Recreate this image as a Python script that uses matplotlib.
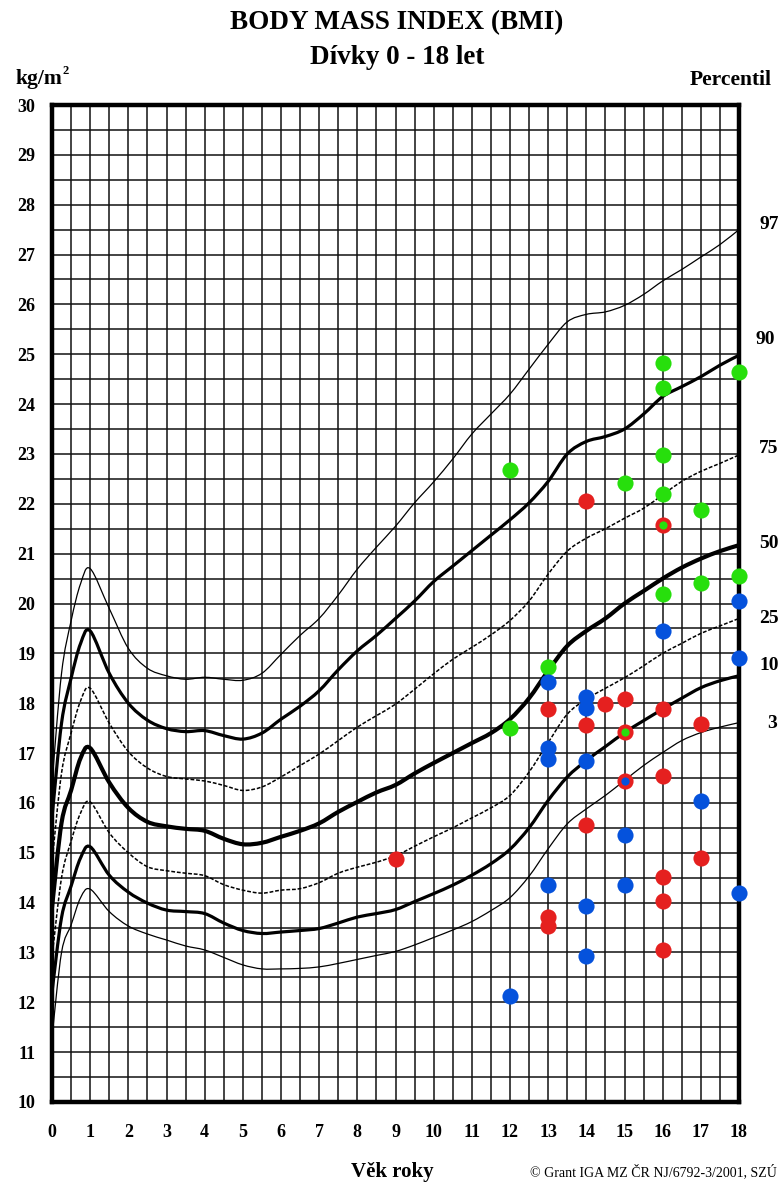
import matplotlib
matplotlib.use("Agg")
import matplotlib.pyplot as plt
from matplotlib.path import Path
from matplotlib.patches import PathPatch

plt.rcParams['font.family'] = ['Liberation Serif', 'DejaVu Serif']

# vek (roky) a percentilove krivky BMI
ages = [0, 0.25, 0.5, 0.75, 1, 1.5, 2, 2.5, 3, 3.5, 4, 4.5, 5, 5.5, 6, 6.5, 7, 7.5, 8, 8.5,
        9, 9.5, 10, 10.5, 11, 11.5, 12, 12.5, 13, 13.5, 14, 14.5, 15, 15.5, 16, 16.5, 17, 17.5, 18]
p97 = [16.4, 18.6, 19.65, 20.4, 20.7, 19.9, 19.1, 18.7, 18.55, 18.48, 18.52, 18.48, 18.46, 18.6,
       18.98, 19.36, 19.7, 20.17, 20.69, 21.13, 21.55, 22.02, 22.44, 22.9, 23.4, 23.8, 24.2, 24.7,
       25.2, 25.65, 25.8, 25.85, 25.98, 26.2, 26.47, 26.7, 26.95, 27.2, 27.5]
p90 = [15.7, 17.6, 18.5, 19.2, 19.45, 18.6, 18.0, 17.66, 17.49, 17.43, 17.45, 17.35, 17.28, 17.4,
       17.68, 17.94, 18.25, 18.67, 19.05, 19.36, 19.7, 20.05, 20.44, 20.75, 21.06, 21.37, 21.68, 22.02,
       22.45, 23.0, 23.25, 23.35, 23.5, 23.8, 24.15, 24.35, 24.55, 24.78, 24.98]
p75 = [14.8, 16.6, 17.4, 18.05, 18.3, 17.6, 17.03, 16.7, 16.53, 16.48, 16.44, 16.35, 16.25, 16.32,
       16.52, 16.75, 16.98, 17.25, 17.52, 17.75, 17.98, 18.28, 18.59, 18.88, 19.12, 19.37, 19.66, 20.05,
       20.59, 21.05, 21.31, 21.5, 21.71, 21.91, 22.18, 22.45, 22.65, 22.81, 22.98]
p50 = [13.9, 15.6, 16.25, 16.9, 17.1, 16.41, 15.9, 15.62, 15.53, 15.48, 15.44, 15.28, 15.17, 15.2,
       15.32, 15.44, 15.59, 15.82, 16.02, 16.21, 16.36, 16.59, 16.8, 17.0, 17.2, 17.4, 17.68, 18.1,
       18.65, 19.15, 19.45, 19.7, 20.0, 20.25, 20.5, 20.72, 20.9, 21.05, 21.17]
p25 = [12.9, 14.5, 15.23, 15.8, 16.02, 15.4, 15.0, 14.72, 14.64, 14.59, 14.54, 14.36, 14.25, 14.19,
       14.25, 14.28, 14.4, 14.59, 14.71, 14.81, 14.94, 15.13, 15.32, 15.5, 15.7, 15.9, 16.15, 16.62,
       17.21, 17.78, 18.08, 18.3, 18.51, 18.75, 19.0, 19.2, 19.4, 19.55, 19.7]
p10 = [12.2, 13.7, 14.33, 14.9, 15.12, 14.55, 14.21, 13.99, 13.85, 13.82, 13.78, 13.59, 13.44, 13.38,
       13.41, 13.44, 13.48, 13.59, 13.71, 13.78, 13.86, 14.02, 14.18, 14.35, 14.55, 14.78, 15.07, 15.5,
       16.05, 16.52, 16.85, 17.13, 17.41, 17.65, 17.88, 18.1, 18.31, 18.45, 18.55]
p3 = [11.3, 13.0, 13.55, 14.1, 14.27, 13.82, 13.53, 13.37, 13.25, 13.13, 13.05, 12.9, 12.75, 12.67,
      12.67, 12.68, 12.71, 12.78, 12.86, 12.94, 13.02, 13.15, 13.3, 13.45, 13.62, 13.84, 14.1, 14.53,
      15.08, 15.58, 15.88, 16.15, 16.45, 16.75, 17.01, 17.25, 17.41, 17.52, 17.61]

# namerene hodnoty
green_x = [12, 12, 13, 15, 16, 16, 16, 16, 16, 17, 17, 18, 18]
green_y = [22.67, 17.5, 18.73, 22.42, 24.83, 24.33, 22.98, 22.19, 20.19, 21.87, 20.41, 24.65, 20.55]
red_x = [9, 13, 13, 13, 14, 14, 14, 14.5, 15, 16, 16, 16, 16, 16, 17, 17]
red_y = [14.87, 17.88, 13.71, 13.53, 22.06, 17.56, 15.55, 17.98, 18.08, 17.89, 16.53, 14.51,
         14.03, 13.05, 17.58, 14.89]
blue_x = [12, 13, 13, 13, 13, 14, 14, 14, 14, 14, 15, 15, 16, 17, 18, 18, 18]
blue_y = [12.13, 18.43, 17.11, 16.89, 14.36, 18.13, 17.91, 16.85, 13.93, 12.93, 15.35, 14.36,
          19.45, 16.03, 20.05, 18.9, 14.2]
ring_green_x = [16, 15]
ring_green_y = [21.58, 17.43]
ring_blue_x = [15]
ring_blue_y = [16.43]

pct_labels = ['97', '90', '75', '50', '25', '10', '3']
pct_label_y = [27.6, 25.3, 23.1, 21.2, 19.7, 18.75, 17.6]
pct_label_x = [759, 755, 759, 759, 759, 759, 767]

GREEN = '#27df0c'
RED = '#e5201f'
BLUE = '#0552dc'


def smooth_curve(ax, xs, ys, **kw):
    # Catmull-Rom -> Bezier, jen vykresleni hladke cary pres namerene body
    pts = list(zip(xs, ys))
    verts = [pts[0]]
    codes = [Path.MOVETO]
    n = len(pts)
    for i in range(n - 1):
        p0 = pts[i - 1] if i > 0 else pts[i]
        p1 = pts[i]
        p2 = pts[i + 1]
        p3 = pts[i + 2] if i + 2 < n else pts[i + 1]
        c1 = (p1[0] + (p2[0] - p0[0]) / 6, p1[1] + (p2[1] - p0[1]) / 6)
        c2 = (p2[0] - (p3[0] - p1[0]) / 6, p2[1] - (p3[1] - p1[1]) / 6)
        verts += [c1, c2, p2]
        codes += [Path.CURVE4] * 3
    ax.add_patch(PathPatch(Path(verts, codes), fill=False, **kw))


fig = plt.figure(figsize=(7.78, 11.84), dpi=100)
ax = fig.add_axes([52 / 778, 1 - 1102 / 1184, 687 / 778, 997 / 1184])
ax.set_xlim(0, 18)
ax.set_ylim(10, 30)

# mrizka po 0.5
for i in range(1, 36):
    ax.axvline(i * 0.5, color='#111111', lw=1.1, zorder=1)
for i in range(1, 40):
    ax.axhline(10 + i * 0.5, color='#111111', lw=1.1, zorder=1)

smooth_curve(ax, ages, p97, edgecolor='black', lw=0.9, zorder=3)
smooth_curve(ax, ages, p90, edgecolor='black', lw=2.3, zorder=3)
smooth_curve(ax, ages, p75, edgecolor='black', lw=1.1, ls=(0, (2.5, 1.2)), zorder=3)
smooth_curve(ax, ages, p50, edgecolor='black', lw=3.0, zorder=3)
smooth_curve(ax, ages, p25, edgecolor='black', lw=1.1, ls=(0, (2.5, 1.2)), zorder=3)
smooth_curve(ax, ages, p10, edgecolor='black', lw=2.3, zorder=3)
smooth_curve(ax, ages, p3, edgecolor='black', lw=0.9, zorder=3)

ax.scatter(green_x, green_y, s=135, color=GREEN, zorder=6, clip_on=False, linewidths=0)
ax.scatter(red_x, red_y, s=135, color=RED, zorder=6, clip_on=False, linewidths=0)
ax.scatter(blue_x, blue_y, s=135, color=BLUE, zorder=6, clip_on=False, linewidths=0)
ax.scatter(ring_green_x, ring_green_y, s=135, color=RED, zorder=6, linewidths=0)
ax.scatter(ring_green_x, ring_green_y, s=35, color=GREEN, zorder=7, linewidths=0)
ax.scatter(ring_blue_x, ring_blue_y, s=135, color=RED, zorder=6, linewidths=0)
ax.scatter(ring_blue_x, ring_blue_y, s=35, color=BLUE, zorder=7, linewidths=0)

for sp in ax.spines.values():
    sp.set_linewidth(3.2)
    sp.set_zorder(5)

ax.set_xticks(range(19))
ax.set_xticklabels([str(i) for i in range(19)], fontsize=13, fontweight='bold')
ax.set_yticks(range(10, 31))
ax.set_yticklabels([str(i) for i in range(10, 31)], fontsize=13, fontweight='bold')
ax.tick_params(length=0)
ax.tick_params(axis='x', pad=16)
ax.tick_params(axis='y', pad=12)

fig.text(397 / 778, 1 - 23 / 1184, 'BODY MASS INDEX (BMI)', ha='center', va='center',
         fontsize=19.5, fontweight='bold')
fig.text(397 / 778, 1 - 57 / 1184, 'Dívky 0 - 18 let', ha='center', va='center',
         fontsize=19.5, fontweight='bold')
fig.text(15 / 778, 1 - 79 / 1184, 'kg/m', ha='left', va='center',
         fontsize=15.5, fontweight='bold')
fig.text(63 / 778, 1 - 71 / 1184, '2', ha='left', va='center',
         fontsize=9, fontweight='bold')
fig.text(690 / 778, 1 - 80 / 1184, 'Percentil', ha='left', va='center',
         fontsize=15.5, fontweight='bold')
for lab, yv, xp in zip(pct_labels, pct_label_y, pct_label_x):
    fig.text(xp / 778, 1 - (105 + (30 - yv) * 49.85) / 1184, lab, ha='left', va='center',
             fontsize=14, fontweight='bold')
fig.text(392 / 778, 1 - 1172 / 1184, 'Věk roky', ha='center', va='center',
         fontsize=15, fontweight='bold')
fig.text(777 / 778, 1 - 1172 / 1184, '© Grant IGA MZ ČR NJ/6792-3/2001, SZÚ', ha='right',
         va='center', fontsize=10)

fig.savefig('out.png', dpi=100)
